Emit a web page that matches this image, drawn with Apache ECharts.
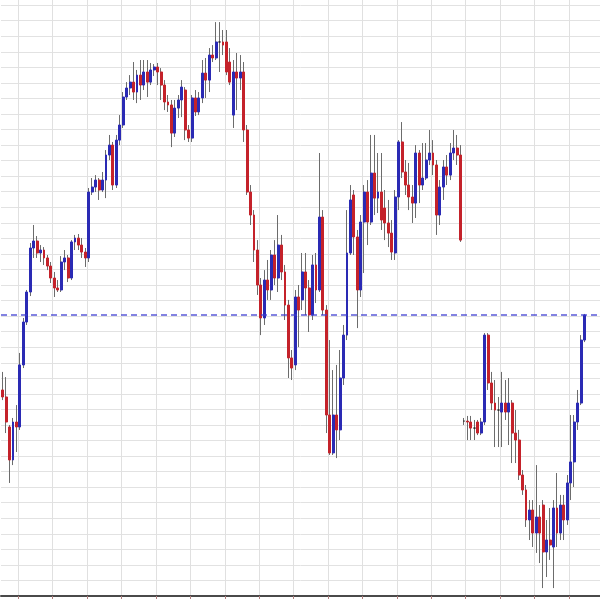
<!DOCTYPE html>
<html><head><meta charset="utf-8">
<script src="https://cdn.jsdelivr.net/npm/echarts@6/dist/echarts.min.js"></script>
<style>html,body{margin:0;padding:0;background:#fff}#c{width:600px;height:600px}</style>
</head><body><div id="c"></div><script>
// price values in grid units (1 unit = one horizontal grid step)
const open = [13.25,12.80,10.87,8.75,11.19,10.87,14.86,17.62,19.55,22.38,
22.83,22.06,22.25,21.74,21.22,20.45,19.81,19.68,21.48,21.74,
20.45,22.77,23.02,22.57,22.12,21.74,25.98,26.30,26.75,26.11,
26.75,28.36,29.00,26.43,29.32,30.29,32.09,32.67,33.05,32.41,
33.50,32.86,33.70,33.05,33.83,34.02,33.70,32.86,31.77,31.58,
29.77,31.38,31.90,32.54,29.97,29.45,32.03,31.13,32.03,33.63,
33.18,34.79,34.60,35.63,35.63,35.63,34.34,30.93,33.70,33.31,
33.70,29.97,25.98,24.50,22.25,20.00,17.88,20.32,19.68,21.93,
20.45,22.57,20.84,18.71,15.31,14.86,19.23,19.04,20.84,19.81,
18.07,21.29,19.68,24.37,18.39,11.64,9.20,11.64,10.68,14.02,
16.78,22.06,25.79,23.09,19.68,24.05,25.98,24.05,27.20,25.59,
25.98,24.95,23.99,23.34,22.06,25.66,29.20,27.27,26.43,25.66,
25.27,28.49,26.43,26.88,28.04,28.49,27.72,24.50,26.30,27.59,
27.07,28.49,28.81,28.36,11.25,11.25,11.19,10.80,11.19,10.48,
11.19,16.78,13.70,12.41,11.96,11.83,12.41,11.83,12.41,10.48,
10.03,7.78,6.82,4.89,5.53,4.05,5.08,5.85,2.83,3.60,
3.15,5.66,4.05,5.85,4.89,7.27,8.62,11.19,12.41,16.46];
const close = [12.80,11.19,8.75,11.19,10.87,14.86,17.62,19.55,22.38,22.83,
22.06,22.25,21.74,21.22,20.45,19.81,19.68,21.48,21.74,20.45,
22.77,23.02,22.57,22.12,21.74,25.98,26.30,26.75,26.11,26.75,
28.36,29.00,26.43,29.32,30.29,32.09,32.67,33.05,32.41,33.50,
32.86,33.70,33.05,33.83,34.02,33.70,32.86,31.77,31.58,29.77,
31.38,31.90,32.73,29.97,29.45,32.03,31.13,32.03,33.63,33.18,
34.79,34.60,35.63,35.63,35.43,33.70,33.05,33.70,33.31,33.70,
29.97,25.98,24.50,22.25,20.00,17.88,20.32,19.68,21.93,20.45,
22.57,20.84,18.71,15.31,14.66,19.23,18.39,20.84,19.81,18.07,
21.29,19.68,24.37,18.39,11.64,9.20,11.64,10.68,14.02,16.78,
22.06,25.47,23.09,19.68,24.05,25.98,24.05,27.20,25.59,25.98,
24.18,23.99,23.34,22.12,25.66,29.20,27.27,26.43,25.66,25.27,
28.49,26.43,26.88,28.04,28.49,27.72,24.50,26.30,27.59,27.07,
28.49,28.81,28.36,22.89,11.25,11.19,10.80,10.80,10.48,11.19,
16.78,13.70,12.41,11.96,11.96,12.41,11.83,12.41,10.48,10.03,
7.78,6.82,4.89,5.53,4.05,5.08,4.05,2.83,3.60,3.28,
5.66,4.05,5.85,4.89,7.27,8.62,11.19,12.41,16.46,18.07];
const high = [14.41,14.08,11.00,11.45,12.28,15.63,17.88,19.68,22.70,23.86,
23.15,22.57,22.44,21.93,21.48,20.84,20.32,21.86,22.25,21.93,
22.89,23.22,23.28,23.02,22.38,26.24,26.88,27.07,26.88,27.27,
28.68,29.65,29.20,29.65,30.93,32.41,33.05,33.50,34.34,33.83,
34.47,34.47,34.47,34.28,34.21,34.28,33.95,33.18,32.22,31.90,
31.90,32.22,33.18,32.73,30.29,32.22,32.54,32.41,34.47,34.60,
35.24,35.43,36.91,36.91,36.40,36.40,35.24,34.47,34.92,34.79,
34.34,30.29,26.43,24.82,22.89,20.45,20.96,21.61,22.25,22.89,
24.50,23.22,21.29,19.04,15.82,19.68,20.00,22.06,22.06,20.32,
21.93,22.06,28.49,24.82,18.71,16.46,14.53,14.86,15.82,17.43,
24.82,26.43,26.11,23.54,24.50,26.43,26.75,29.65,29.65,28.49,
28.49,26.11,25.47,24.18,26.11,29.32,30.48,28.04,27.85,26.43,
29.00,28.68,29.13,29.13,29.97,29.32,28.04,26.75,28.04,28.36,
29.13,29.97,29.65,29.00,11.45,11.58,11.58,11.32,11.32,11.45,
16.91,16.91,14.41,13.89,12.80,14.41,13.89,14.02,12.60,11.96,
10.68,8.10,7.14,6.17,6.17,8.42,5.85,6.17,4.89,5.66,
6.17,7.91,6.50,6.50,7.78,11.64,11.64,13.25,16.78,18.14];
const low = [12.60,10.48,7.27,8.42,9.26,10.68,14.66,17.43,19.29,21.74,
21.74,21.48,21.29,20.96,20.13,19.23,19.55,19.55,20.96,20.19,
20.32,22.25,22.25,21.74,21.16,21.48,25.79,25.98,25.47,25.98,
25.59,28.04,26.11,26.24,29.00,30.10,31.90,32.22,31.90,31.70,
31.90,32.54,32.09,32.86,33.44,32.86,31.90,31.25,31.13,28.87,
29.52,30.74,30.80,29.32,29.20,29.20,30.87,30.93,31.70,32.03,
32.41,34.34,34.47,33.70,34.79,33.50,32.86,30.10,31.25,32.54,
29.20,25.79,23.86,21.48,19.36,16.78,17.43,19.04,19.04,20.00,
19.55,20.32,17.75,14.02,13.89,14.53,16.01,18.39,18.07,16.98,
17.75,18.84,19.55,18.07,10.48,9.07,9.07,8.87,10.03,13.57,
16.46,21.93,21.93,17.23,19.23,20.77,22.57,23.86,24.50,24.63,
23.54,22.89,22.44,21.61,21.61,24.82,26.88,25.79,24.82,23.99,
24.31,25.27,26.11,26.75,27.72,27.07,23.22,23.86,25.47,26.43,
26.75,28.04,27.72,22.77,11.00,10.03,10.03,10.03,10.35,10.35,
11.00,13.25,11.96,9.58,9.58,9.58,11.32,9.71,8.55,8.55,
7.46,6.50,4.44,3.60,3.15,2.77,2.12,0.51,1.22,2.32,
0.51,3.15,3.60,3.60,4.57,6.17,7.01,10.68,12.28,16.33];
const barCount = 174;
const categories = Array.from({length: barCount}, (_, i) => 'Bar ' + (i + 1));
const yMin = 0, yMax = 38.33, yStep = 1;

const wickData = open.map((o, i) => [o, close[i], low[i], high[i]]);
const bodyData = open.map((o, i) => [o, close[i], Math.min(o, close[i]), Math.max(o, close[i])]);
const gridEvery = (i) => i % 10 === 5;
const lastClose = close[close.length - 1];

const chart = echarts.init(document.getElementById('c'), null, {renderer: 'canvas'});
chart.setOption({
  animation: false,
  backgroundColor: '#ffffff',
  grid: {left: 1, right: 0, top: 0, bottom: 4, containLabel: false},
  xAxis: {
    type: 'category', data: categories, boundaryGap: true,
    axisLine: {show: true, lineStyle: {color: '#4a4a4a', width: 2}},
    axisTick: {show: true, length: 3, interval: gridEvery, lineStyle: {color: '#b08080'}},
    axisLabel: {show: false},
    splitLine: {show: true, interval: gridEvery, lineStyle: {color: '#e0e0e0', width: 1}}
  },
  yAxis: {
    type: 'value', min: yMin, max: yMax, interval: yStep,
    axisLine: {show: false}, axisTick: {show: false}, axisLabel: {show: false},
    splitLine: {show: true, showMaxLine: false, lineStyle: {color: '#e2e2e2', width: 1}}
  },
  series: [
    {
      type: 'candlestick', name: 'wick', data: wickData, barWidth: 0.6, z: 2,
      itemStyle: {color: '#6c6c6c', color0: '#6c6c6c', borderColor: '#6c6c6c', borderColor0: '#6c6c6c', borderColorDoji: '#6c6c6c', borderWidth: 1}
    },
    {
      type: 'candlestick', name: 'body', data: bodyData, barWidth: 2.4, z: 3,
      itemStyle: {color: '#2a2ab4', color0: '#c4222a', borderColor: '#2a2ab4', borderColor0: '#c4222a', borderColorDoji: '#222222', borderWidth: 1}
    },
    {
      type: 'line', name: 'last', data: [], z: 4, color: '#3c3cd0',
      lineStyle: {color: '#3c3cd0'},
      markLine: {
        silent: true, symbol: ['none', 'none'], label: {show: false},
        lineStyle: {color: '#3c3cd0', type: [6, 4], width: 1.6, opacity: 0.85},
        data: [{yAxis: lastClose}]
      }
    }
  ]
});
</script></body></html>
